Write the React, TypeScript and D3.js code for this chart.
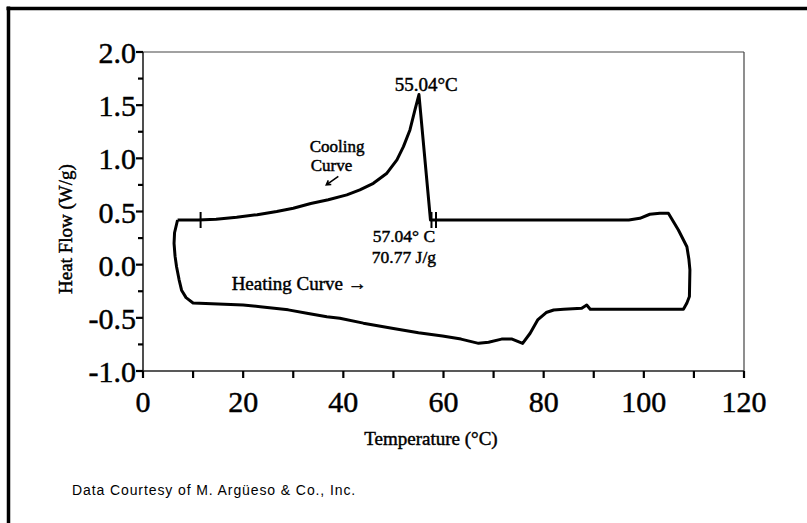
import * as d3 from "d3";

// DSC thermogram: one closed loop (heating along the bottom,
// cooling back along the top with the crystallisation peak)
const leftSide: [number, number][] = [
  [6.9, 0.42], [6.3, 0.3], [6.2, 0.2], [6.4, 0.08], [6.7, -0.02],
  [7.2, -0.14], [7.7, -0.24], [8.6, -0.31], [10.0, -0.36],
];

const heatingCurve: [number, number][] = [
  [15, -0.37], [20, -0.38], [23.4, -0.395], [29, -0.425], [33, -0.46],
  [36.7, -0.489], [39.3, -0.504], [44, -0.55], [50, -0.6], [55, -0.64],
  [59.8, -0.67], [63.5, -0.7], [67, -0.74], [69, -0.73], [71.6, -0.7],
  [73.7, -0.7], [75.8, -0.74], [77.3, -0.645], [78.8, -0.52], [80.5, -0.45],
  [82, -0.426], [84, -0.42], [87.6, -0.41], [88.6, -0.38], [89.3, -0.42],
  [95, -0.42], [100, -0.42], [105, -0.42], [107.9, -0.42],
];

const rightSide: [number, number][] = [
  [108.6, -0.36], [109.1, -0.3], [109.2, -0.05], [109.0, 0.05],
  [108.6, 0.169], [106.9, 0.326], [104.9, 0.484],
];

const coolingCurve: [number, number][] = [
  [103.2, 0.483], [101.2, 0.474], [99.2, 0.436], [97, 0.42], [80, 0.42],
  [60, 0.42], [57.4, 0.42], [55.1, 1.6], [54.3, 1.455], [53.3, 1.267],
  [52, 1.11], [50.7, 0.985], [48.7, 0.86], [46, 0.765], [43.3, 0.703],
  [40.7, 0.656], [37, 0.61], [33.5, 0.575], [30, 0.53], [26.7, 0.5],
  [22.8, 0.47], [18.7, 0.445], [14.6, 0.427], [11, 0.42], [6.9, 0.42],
];

// integration limits marked on the baseline
const baselineMarks = [11.5, 57.6, 58.5];
const baselineLevel = 0.42;

const tempTicks = d3.range(0, 121, 10);
const tempLabels = [0, 20, 40, 60, 80, 100, 120];
const flowMajor = [-1.0, -0.5, 0.0, 0.5, 1.0, 1.5, 2.0];
const flowMinor = [-0.75, -0.25, 0.25, 0.75, 1.25, 1.75];

const WIDTH = 807;
const HEIGHT = 523;
const PLOT = { left: 143, right: 744, top: 52, bottom: 371 };
const SERIF = "'Liberation Serif', 'Times New Roman', serif";
// scanned print looks a bit heavier than the plain face
const INK = { fill: "#000", stroke: "#000", strokeWidth: 0.45 };

export default function App() {
  const x = d3.scaleLinear().domain([0, 120]).range([PLOT.left, PLOT.right]);
  const y = d3.scaleLinear().domain([-1, 2]).range([PLOT.bottom, PLOT.top]);

  const line = d3
    .line<[number, number]>()
    .x((d) => x(d[0]))
    .y((d) => y(d[1]));

  const loop = [...leftSide, ...heatingCurve, ...rightSide, ...coolingCurve];

  // little arrow under "Cooling Curve"
  const arrowFrom: [number, number] = [39, 0.83];
  const arrowTo: [number, number] = [36.6, 0.75];
  const ax = x(arrowTo[0]);
  const ay = y(arrowTo[1]);
  const ang = Math.atan2(ay - y(arrowFrom[1]), ax - x(arrowFrom[0]));
  const head = [ang + 2.6, ang - 2.6].map((a) => [ax + 5 * Math.cos(a), ay + 5 * Math.sin(a)]);

  return (
    <svg
      width={WIDTH}
      height={HEIGHT}
      style={{ position: "absolute", left: 0, top: 0, background: "#fff" }}
    >
      {/* scan border */}
      <line x1={8.5} x2={8.5} y1={6.5} y2={HEIGHT} stroke="#000" strokeWidth={3.5} />
      <line x1={6.5} x2={WIDTH} y1={8.5} y2={8.5} stroke="#000" strokeWidth={3.5} />

      {/* plot frame */}
      <line x1={PLOT.left} x2={PLOT.right} y1={PLOT.top} y2={PLOT.top} stroke="#444" strokeWidth={1.2} />
      <line x1={PLOT.right} x2={PLOT.right} y1={PLOT.top} y2={PLOT.bottom} stroke="#444" strokeWidth={1.2} />
      <line x1={PLOT.left} x2={PLOT.right} y1={PLOT.bottom} y2={PLOT.bottom} stroke="#222" strokeWidth={1.6} />
      <line x1={PLOT.left} x2={PLOT.left} y1={PLOT.top} y2={PLOT.bottom} stroke="#222" strokeWidth={1.6} />

      {/* x ticks */}
      {tempTicks.map((t) => (
        <line key={"xt" + t} x1={x(t)} x2={x(t)} y1={PLOT.bottom} y2={PLOT.bottom + 7} stroke="#000" strokeWidth={2.2} />
      ))}
      {tempLabels.map((t) => (
        <text key={"xl" + t} x={x(t)} y={411.5} textAnchor="middle" fontFamily={SERIF} fontSize={30} {...INK}>
          {t}
        </text>
      ))}

      {/* y ticks */}
      {flowMajor.map((v) => (
        <line key={"yt" + v} x1={PLOT.left - 7} x2={PLOT.left} y1={y(v)} y2={y(v)} stroke="#000" strokeWidth={2.2} />
      ))}
      {flowMinor.map((v) => (
        <line key={"ym" + v} x1={PLOT.left - 5} x2={PLOT.left} y1={y(v)} y2={y(v)} stroke="#000" strokeWidth={2.2} />
      ))}
      {flowMajor.map((v) => (
        <text key={"yl" + v} x={136} y={y(v) + 11} textAnchor="end" fontFamily={SERIF} fontSize={30} {...INK}>
          {v.toFixed(1)}
        </text>
      ))}

      {/* axis titles */}
      <text
        transform={`translate(72, 229) rotate(-90)`}
        textAnchor="middle"
        fontFamily={SERIF}
        fontSize={19}
        {...INK}
      >
        Heat Flow (W/g)
      </text>
      <text x={431} y={445} textAnchor="middle" fontFamily={SERIF} fontSize={19} {...INK}>
        Temperature (°C)
      </text>

      {/* thermogram */}
      <path d={line(loop) ?? ""} fill="none" stroke="#000" strokeWidth={3} strokeLinejoin="round" />
      {baselineMarks.map((t) => (
        <line
          key={"bm" + t}
          x1={x(t)}
          x2={x(t)}
          y1={y(baselineLevel) - 8}
          y2={y(baselineLevel) + 8}
          stroke="#000"
          strokeWidth={2}
        />
      ))}

      {/* annotations */}
      <text x={x(56.55)} y={y(1.633)} textAnchor="middle" fontFamily={SERIF} fontSize={19} {...INK}>
        55.04°C
      </text>
      <text x={x(33.3)} y={y(1.06)} fontFamily={SERIF} fontSize={17} {...INK}>
        <tspan x={x(33.3)}>Cooling</tspan>
        <tspan x={x(33.5)} y={y(0.884)}>Curve</tspan>
      </text>
      <path
        d={`M${x(arrowFrom[0])},${y(arrowFrom[1])}L${ax},${ay}M${head[0][0]},${head[0][1]}L${ax},${ay}L${head[1][0]},${head[1][1]}`}
        fill="none"
        stroke="#000"
        strokeWidth={1.6}
      />
      <text x={x(52.1)} y={y(0.215)} textAnchor="middle" fontFamily={SERIF} fontSize={17.5} {...INK}>
        57.04° C
      </text>
      <text x={x(52.1)} y={y(0.02)} textAnchor="middle" fontFamily={SERIF} fontSize={17.5} {...INK}>
        70.77 J/g
      </text>
      <text x={x(17.7)} y={y(-0.238)} fontFamily={SERIF} fontSize={19} {...INK}>
        Heating Curve →
      </text>

      <text
        x={72}
        y={495}
        fontFamily="'Liberation Sans', Arial, sans-serif"
        fontSize={14}
        letterSpacing={0.9}
      >
        Data Courtesy of M. Argüeso &amp; Co., Inc.
      </text>
    </svg>
  );
}
